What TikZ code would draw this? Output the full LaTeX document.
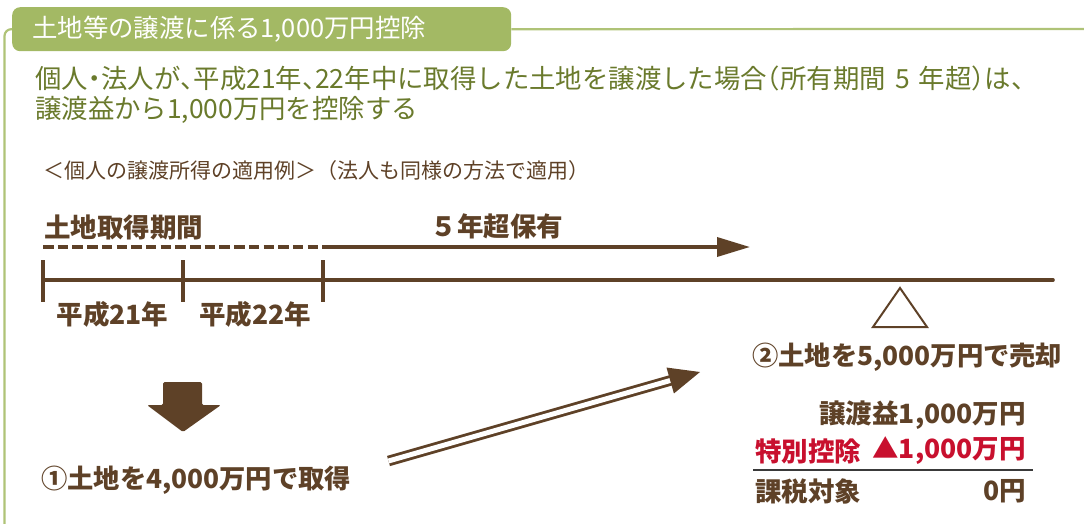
\documentclass[tikz,border=0pt]{standalone}
\usepackage{fontspec}
\setmainfont{Noto Sans CJK JP}
\newfontfamily\jphalt[RawFeature=+halt]{Noto Sans CJK JP}
\newcommand{\hw}[1]{{\jphalt #1}}
\usetikzlibrary{calc,arrows.meta}
\definecolor{hdrgreen}{HTML}{A3B964}
\definecolor{framegreen}{HTML}{AFC377}
\definecolor{txtgreen}{HTML}{6A7A2C}
\definecolor{brn}{HTML}{5E4127}
\definecolor{redc}{HTML}{C8102E}
\definecolor{rulegray}{HTML}{3A3A3A}
\begin{document}
\begin{tikzpicture}[x=1pt,y=-1pt,
  hdrtxt/.style={inner sep=0, text=white, font=\fontsize{25.4}{30}\selectfont},
  bodytxt/.style={inner sep=0, text=txtgreen, font=\fontsize{26.4}{30}\selectfont},
  subtxt/.style={inner sep=0, text=brn, font=\fontsize{21}{25}\selectfont},
  lbl/.style={inner sep=0, text=brn, font=\fontsize{26.5}{30}\selectfont\bfseries},
  biglbl/.style={inner sep=0, text=brn, font=\fontsize{26.3}{30}\selectfont\bfseries},
  redlbl/.style={lbl, text=redc},
  brline/.style={draw=brn, line width=3.6pt},
  framestyle/.style={draw=framegreen, line width=2.2pt}]
\useasboundingbox (0,0) rectangle (1084,524);

% header and frame
\coordinate (fr) at (1084,29);
\coordinate (fcorner) at (4.5,29);
\coordinate (fbot) at (4.5,524);
\node[fill=hdrgreen, rounded corners=8pt, minimum width=499pt, minimum height=44pt,
      inner sep=0, anchor=north west] (hdr) at (12,7) {};
\draw[framestyle] (hdr.east) -- (fr);
\draw[framestyle, rounded corners=7pt] (hdr.west) -- (fcorner) -- (fbot);
\node[hdrtxt, anchor=west] (title) at (32,29) {土地等の譲渡に係る1,000万円控除};

% body text
\node[bodytxt, anchor=west] (b1) at (35,78) {個人\hw{・}法人が\hw{、}平成21年\hw{、}22年中に取得した土地を譲渡した場合\hw{（}所有期間\hspace{0.35em}5\hspace{0.35em}年超\hw{）}は、};
\node[bodytxt, anchor=west] (b2) at (35,110) {譲渡益から1,000万円を控除する};
\node[subtxt, anchor=west] (sub) at (43,171) {＜個人の譲渡所得の適用例＞（法人も同様の方法で適用）};

% period labels
\node[lbl, anchor=west] (acq) at (44,227) {土地取得期間};
\node[lbl] (hold) at (497,226) {５年超保有};

% dashed + arrow
\coordinate (d0) at (43,247);
\coordinate (d1) at (325,247);
\coordinate (d2) at (750,247);
\draw[brline, dash pattern=on 10.5pt off 4.2pt] (d0) -- (d1);
\draw[brline, -{Triangle[length=33pt,width=19pt]}] (d1) -- (d2);

% timeline
\coordinate (t0) at (43,280);
\coordinate (t1) at (183,280);
\coordinate (t2) at (323,280);
\coordinate (tend) at (1053,280);
\draw[brline, line cap=round] (t0) -- (tend);
\foreach \t in {t0,t1,t2}{
  \draw[draw=brn, line width=3.2pt] ($(\t)+(0,-20)$) -- ($(\t)+(0,22)$);
}
\node[lbl] (y21) at (112.5,314) {平成21年};
\node[lbl] (y22) at (255,314) {平成22年};

% sale triangle
\draw[draw=brn, line width=2pt, line join=miter] (900,288) -- (927,327) -- (873,327) -- cycle;

% sale text
\node[biglbl, anchor=west] (sell) at (752,357) {②土地を5,000万円で売却};
\node[lbl, anchor=east] (gain) at (1026,415) {譲渡益1,000万円};
\node[redlbl, anchor=west] (ded1) at (755,451) {特別控除};
\node[redlbl, anchor=east] (ded2) at (1026,451) {▲1,000万円};
\coordinate (r0) at (753,470);
\coordinate (r1) at (1033,470);
\draw[draw=rulegray, line width=1.3pt] (r0) -- (r1);
\node[lbl, anchor=west] (tax1) at (755,491) {課税対象};
\node[lbl, anchor=east] (tax2) at (1026,491) {0円};

% down arrow
\fill[brn, rounded corners=1.5pt] (163,382) -- (202,382) -- (202,405) -- (221,405) -- (183,432) -- (147,405) -- (163,405) -- cycle;
\node[biglbl, anchor=west] (buy) at (41,480) {①土地を4,000万円で取得};

% double arrow
\coordinate (dA) at (388.5,461);
\coordinate (dB) at (700,372);
\coordinate (dH) at ($(dB)!31pt!(dA)$);
\draw[draw=brn, line width=2.8pt, double=white, double distance=5pt] (dA) -- ($(dH)!4pt!(dB)$);
\fill[brn] (dB) -- ($(dH)!13.5pt!90:(dB)$) -- ($(dH)!13.5pt!-90:(dB)$) -- cycle;
\end{tikzpicture}
\end{document}
